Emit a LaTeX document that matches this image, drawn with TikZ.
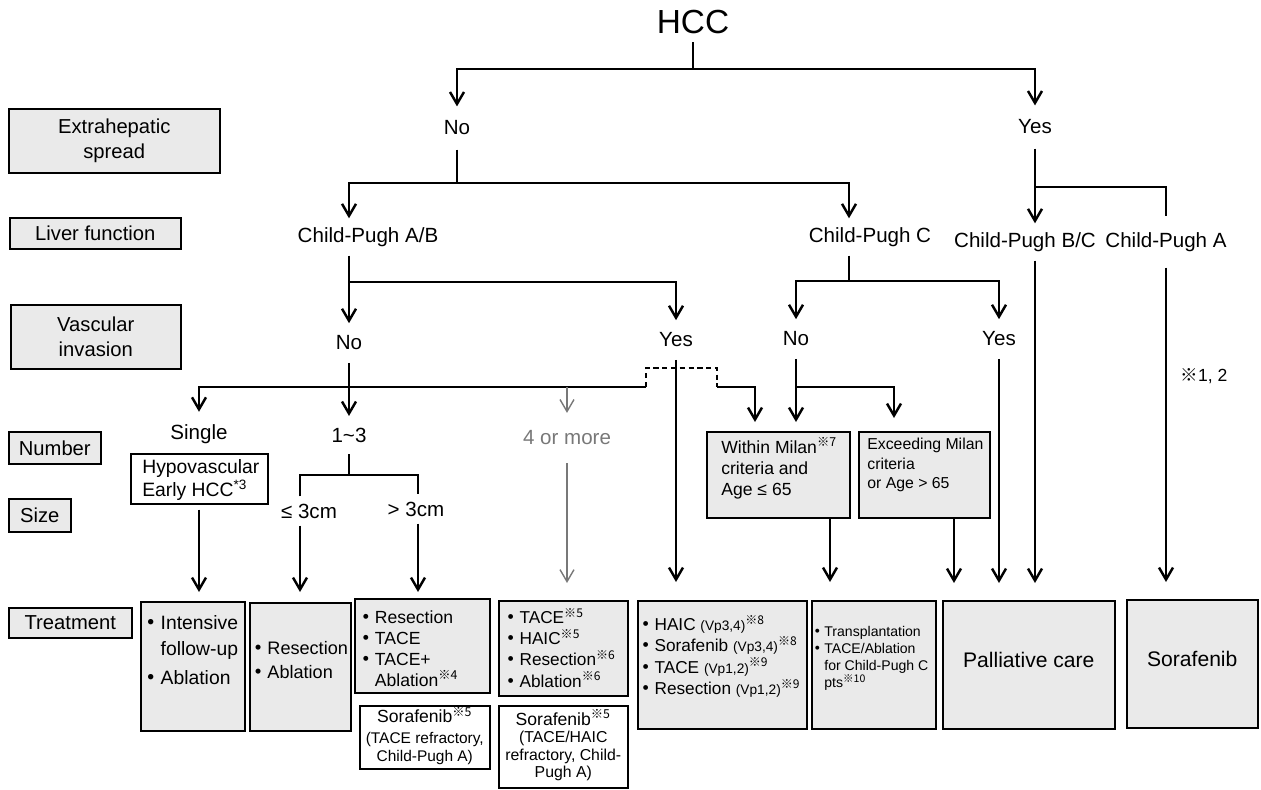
\documentclass[tikz,border=0pt]{standalone}
\usepackage{fontspec}
\setmainfont{Liberation Sans}
\newfontfamily\cjk{Noto Sans CJK JP}
\usetikzlibrary{arrows.meta}
\definecolor{boxgray}{RGB}{234,234,234}
\definecolor{midgray}{RGB}{120,120,120}
\newcommand{\refm}[1]{\textsuperscript{\smash{\cjk ※#1}}}
\newcommand{\bul}{{\cjk\bfseries ・}}
\newcommand{\nobul}{\hphantom{\bul}}

\begin{document}
\begin{tikzpicture}[
		x=0.02cm, y=-0.02cm,
		every node/.style={font=\fontsize{11.7}{14}\selectfont},
		hdr/.style={draw, fill=boxgray, line width=0.9pt, anchor=north west, align=center, inner sep=0pt, font=\fontsize{11.5}{14.2}\selectfont},
		dec/.style={inner xsep=1pt, inner ysep=#1},
		dec/.default=7pt,
		tbox/.style={draw, fill=boxgray, line width=0.9pt, anchor=north west, inner sep=0pt},
		wbox/.style={tbox, fill=white},
		txt/.style={anchor=north west, inner sep=0pt, align=left},
		ln/.style={line width=1.4pt},
		arr/.style={ln, -{Straight Barb[length=2.4mm,width=2.8mm]}},
		garr/.style={arr, draw=midgray, line width=0.8pt}
	]
		\useasboundingbox (0,0) rectangle (1261,790);

		% row headers
		\node[hdr, minimum width=4.22cm, minimum height=1.28cm](h-spread) at (8,108){Extrahepatic\\spread};
		\node[hdr, minimum width=3.42cm, minimum height=0.62cm](h-liver) at (9,217){Liver function};
		\node[hdr, minimum width=3.40cm, minimum height=1.28cm](h-vasc) at (10,304){Vascular\\invasion};
		\node[hdr, minimum width=1.84cm, minimum height=0.64cm](h-number) at (8,431){Number};
		\node[hdr, minimum width=1.24cm, minimum height=0.66cm](h-size) at (8,498){Size};
		\node[hdr, minimum width=2.46cm, minimum height=0.60cm](h-treat) at (8,607){Treatment};

		% decision labels
		\node[font=\fontsize{19}{22}\selectfont, inner ysep=4.5pt](hcc) at (693,22){HCC};
		\node[dec=8pt](ext-no) at (457,128){No};
		\node[dec=8pt](ext-yes) at (1035,127){Yes};
		\node[dec=5pt](cp-ab) at (368,237){Child-Pugh A/B};
		\node[dec=5pt](cp-c) at (870,237){Child-Pugh C};
		\node[dec=5pt](cp-bc) at (1025,242){Child-Pugh B/C};
		\node[dec=9pt](cp-a) at (1166,242){Child-Pugh A};
		\node[dec](vi-ab-no) at (349,343){No};
		\node[dec](vi-ab-yes) at (676,340){Yes};
		\node[dec](vi-c-no) at (796,339){No};
		\node[dec](vi-c-yes) at (999,339){Yes};
		\node[dec](nb-single) at (199,434){Single};
		\node[dec=6.5pt](nb-13) at (349,435){1\textasciitilde3};
		\node[dec=10pt, text=midgray](nb-4) at (567,438){4 or more};
		\node[dec=4pt](sz-le) at (309,511){≤ 3cm};
		\node[dec=4pt](sz-gt) at (416,509){> 3cm};
		\node[font=\fontsize{10}{12}\selectfont](note-12) at (1204,376){{\cjk ※}1, 2};

		% middle boxes
		\node[wbox, minimum width=2.74cm, minimum height=1.0cm](hypo) at (130,453){};
		\node[txt, font=\fontsize{11}{13.1}\selectfont](hypo-t) at (142,459){Hypovascular\\Early HCC\textsuperscript{*3}};
		\node[tbox, minimum width=2.86cm, minimum height=1.72cm](milan) at (706,431){};
		\node[txt, font=\fontsize{10}{12.2}\selectfont](milan-t) at (721,440){Within Milan\refm{7}\\criteria and\\Age ≤ 65};
		\node[tbox, minimum width=2.62cm, minimum height=1.72cm](exceed) at (858,431){};
		\node[txt, font=\fontsize{9}{11.1}\selectfont](exceed-t) at (867,438){Exceeding Milan\\criteria\\or Age > 65};

		% treatment boxes
		\node[tbox, minimum width=2.08cm, minimum height=2.58cm](trt1) at (140,601){};
		\node[txt, font=\fontsize{11}{14.8}\selectfont](trt1-t) at (141,615){\bul Intensive\\\nobul follow-up\\[2pt]\bul Ablation};
		\node[tbox, minimum width=2.02cm, minimum height=2.56cm](trt2) at (249,602){};
		\node[txt, font=\fontsize{10.3}{13.7}\selectfont](trt2-t) at (249,641){\bul Resection\\\bul Ablation};
		\node[tbox, minimum width=2.70cm, minimum height=1.88cm](trt3) at (354,598){};
		\node[txt, font=\fontsize{10}{12}\selectfont](trt3-t) at (357,610){\bul Resection\\\bul TACE\\\bul TACE+\\\nobul Ablation\refm{4}};
		\node[wbox, minimum width=2.60cm, minimum height=1.26cm, align=center, font=\fontsize{8.8}{10}\selectfont](trt3-s) at (359,705){{\fontsize{10}{12}\selectfont Sorafenib\refm{5}}\\[2pt](TACE refractory,\\Child-Pugh A)};
		\node[tbox, minimum width=2.58cm, minimum height=1.90cm](trt4) at (498,600){};
		\node[txt, font=\fontsize{9.8}{12.1}\selectfont](trt4-t) at (502,611){\bul TACE\refm{5}\\\bul HAIC\refm{5}\\\bul Resection\refm{6}\\\bul Ablation\refm{6}};
		\node[wbox, minimum width=2.58cm, minimum height=1.64cm, align=center, font=\fontsize{9}{10}\selectfont](trt4-s) at (498,705){{\fontsize{10}{12}\selectfont Sorafenib\refm{5}}\\(TACE/HAIC\\refractory, Child-\\Pugh A)};
		\node[tbox, minimum width=3.38cm, minimum height=2.56cm](trt5) at (637,600){};
		\node[txt, font=\fontsize{9.8}{12.2}\selectfont](trt5-t) at (637,618){\bul HAIC {\fontsize{7.8}{9}\selectfont(Vp3,4)}\refm{8}\\\bul Sorafenib {\fontsize{7.8}{9}\selectfont(Vp3,4)}\refm{8}\\\bul TACE {\fontsize{7.8}{9}\selectfont(Vp1,2)}\refm{9}\\\bul Resection {\fontsize{7.8}{9}\selectfont(Vp1,2)}\refm{9}};
		\node[tbox, minimum width=2.48cm, minimum height=2.56cm](trt6) at (811,600){};
		\node[txt, font=\fontsize{8}{9.7}\selectfont](trt6-t) at (810,626){\bul Transplantation\\\bul TACE/Ablation\\\nobul for Child-Pugh C\\\nobul pts\refm{10}};
		\node[tbox, minimum width=3.44cm, minimum height=2.56cm, font=\fontsize{12}{14}\selectfont](pall) at (942,600){\raisebox{0.2cm}{Palliative care}};
		\node[tbox, minimum width=2.62cm, minimum height=2.56cm, font=\fontsize{12}{14}\selectfont](sora) at (1126,599){\raisebox{0.2cm}{Sorafenib}};

		% junctions
		\coordinate (hcc-j) at (693,69);
		\coordinate (no-j) at (457,183);
		\coordinate (yes-j) at (1035,187);
		\coordinate (ab-j) at (349,282);
		\coordinate (c-j) at (849,281);
		\coordinate (ab-no-j) at (349,387);
		\coordinate (c-no-j) at (796,387);
		\coordinate (c-no-r) at (894,387);
		\coordinate (dash-l) at (646,387);
		\coordinate (dash-r) at (717,387);
		\coordinate (milan-in) at (755,387);
		\coordinate (n13-j) at (349,475);
		\coordinate (sz-l) at (300,475);
		\coordinate (sz-r) at (418,475);
		\coordinate (milan-out) at (830,517);
		\coordinate (exc-out) at (954,517);

		% tree
		\draw[arr](hcc) -- (hcc-j) -| (ext-no);
		\draw[arr](hcc-j) -| (ext-yes);
		\draw[arr](ext-no) -- (no-j) -| (cp-ab.north -| ab-j);
		\draw[arr](no-j) -| (cp-c.north -| c-j);
		\draw[arr](cp-ab.south -| ab-j) -- (vi-ab-no);
		\draw[arr](ab-j) -| (vi-ab-yes);
		\draw[arr](cp-c.south -| c-j) -- (c-j) -| (vi-c-no);
		\draw[arr](c-j) -| (vi-c-yes);
		\draw[arr](ext-yes) -- (yes-j) -- (cp-bc.north -| yes-j);
		\draw[ln](yes-j) -| (cp-a);

		% vascular invasion, no
		\draw[ln](vi-ab-no) -- (ab-no-j);
		\draw[arr](dash-l) -- (nb-single |- ab-no-j) -- (nb-single);
		\draw[arr](ab-no-j) -- (nb-13);
		\draw[garr](nb-4 |- ab-no-j) -- (nb-4);
		\draw[ln, dash pattern=on 3pt off 2pt](dash-l) -- ++(0,-19) -| (dash-r);
		\draw[arr, shorten >=0.18cm](dash-r) -- (milan-in) -- (milan.north -| milan-in);
		\draw[arr, shorten >=0.18cm](vi-c-no) -- (milan.north -| vi-c-no);
		\draw[arr, shorten >=0.26cm](c-no-j) -- (c-no-r) -- (exceed.north -| c-no-r);

		% size split
		\draw[ln](nb-13) -- (n13-j);
		\draw[ln](sz-le.north -| sz-l) -- (sz-l) -- (sz-r) -- (sz-gt.north -| sz-r);

		% into treatment
		\draw[arr, shorten >=0.18cm, shorten <=0.1cm](hypo.south -| nb-single) -- (trt1.north -| nb-single);
		\draw[arr, shorten >=0.2cm](sz-le.south -| sz-l) -- (trt2.north -| sz-l);
		\draw[arr, shorten >=0.12cm](sz-gt.south -| sz-r) -- (trt3.north -| sz-r);
		\draw[garr, shorten >=0.34cm](nb-4) -- (trt4.north -| nb-4);
		\draw[arr, shorten >=0.36cm](vi-ab-yes) -- (trt5.north -| vi-ab-yes);
		\draw[arr, shorten >=0.36cm](milan.south -| milan-out) -- (trt6.north -| milan-out);
		\draw[arr, shorten >=0.34cm](exceed.south -| exc-out) -- (pall.north -| exc-out);
		\draw[arr, shorten >=0.34cm](vi-c-yes) -- (pall.north -| vi-c-yes);
		\draw[arr, shorten >=0.34cm](cp-bc.south -| yes-j) -- (pall.north -| yes-j);
		\draw[arr, shorten >=0.34cm](cp-a) -- (sora.north -| cp-a);
	\end{tikzpicture}
\end{document}
